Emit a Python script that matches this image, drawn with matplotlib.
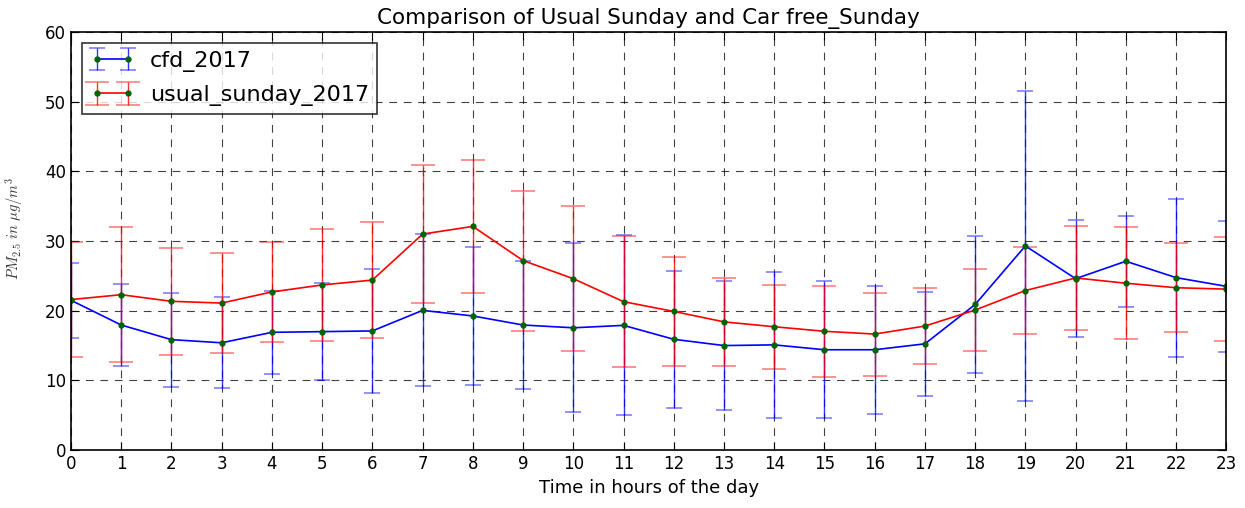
import numpy as np
import matplotlib
matplotlib.use("Agg")
import matplotlib.pyplot as plt

plt.rcParams['mathtext.fontset'] = 'cm'
plt.rcParams['xtick.direction'] = 'in'
plt.rcParams['ytick.direction'] = 'in'

hours = list(range(24))

cfd_2017_mean = [21.5, 17.95, 15.85, 15.4, 16.9, 17.0, 17.1, 20.05, 19.25, 17.95,
                 17.55, 17.9, 15.9, 15.0, 15.1, 14.4, 14.4, 15.25, 20.9, 29.3,
                 24.6, 27.1, 24.75, 23.5]
cfd_2017_std = [5.4, 5.85, 6.75, 6.5, 6.0, 7.0, 8.9, 10.9, 9.85, 9.25,
                12.15, 12.9, 9.8, 9.3, 10.5, 9.8, 9.2, 7.45, 9.8, 22.3,
                8.4, 6.5, 11.35, 9.4]

usual_sunday_2017_mean = [21.6, 22.3, 21.35, 21.1, 22.7, 23.7, 24.4, 31.0, 32.1, 27.2,
                          24.6, 21.3, 19.9, 18.4, 17.7, 17.05, 16.65, 17.8, 20.1, 22.9,
                          24.7, 23.95, 23.3, 23.1]
usual_sunday_2017_std = [8.3, 9.7, 7.65, 7.2, 7.2, 8.0, 8.3, 9.9, 9.5, 10.05,
                         10.4, 9.4, 7.8, 6.3, 6.0, 6.55, 5.95, 5.5, 5.9, 6.3,
                         7.5, 8.0, 6.4, 7.5]

fig = plt.figure(figsize=(12.45, 5.08), dpi=100)
ax = fig.add_axes([0.057, 0.114, 0.928, 0.823])

def draw(mean, err, color, label, cap):
    line, caps, bars = ax.errorbar(hours, mean, yerr=err, color=color, ecolor=color,
                                   marker='o', markersize=3.5, markerfacecolor='#006400',
                                   markeredgecolor='#006400', linewidth=1.2,
                                   elinewidth=1, capsize=cap, capthick=1.2,
                                   label=label)
    for c in caps:
        c.set_alpha(0.5)
    for b in bars:
        b.set_alpha(0.8)

draw(cfd_2017_mean, cfd_2017_std, 'b', 'cfd_2017', 6)
draw(usual_sunday_2017_mean, usual_sunday_2017_std, 'r', 'usual_sunday_2017', 8.3)

ax.set_xlim(0, 23)
ax.set_ylim(0, 60)
ax.set_xticks(hours)
ax.set_yticks(range(0, 61, 10))
ax.tick_params(top=True, right=True, length=6, labelsize=12, width=0.8)
ax.grid(True, color='black', linestyle=(0, (7, 6)), linewidth=0.8, alpha=0.75)
for s in ax.spines.values():
    s.set_linewidth(1.2)

ax.set_title('Comparison of Usual Sunday and Car free_Sunday', fontsize=15.5)
ax.set_xlabel('Time in hours of the day', fontsize=13)
ax.set_ylabel(r'$PM_{2.5}\ in\ \mu g/m^3$', fontsize=10.5, color='#333333')
ax.yaxis.set_label_coords(-0.040, 0.53)

leg = ax.legend(loc='upper left', numpoints=2, fontsize=16, fancybox=False,
                handlelength=2, borderaxespad=0.5, borderpad=0.35,
                labelspacing=0.6, handletextpad=0.7)
leg.get_frame().set_edgecolor('black')
leg.get_frame().set_linewidth(1.2)

fig.savefig('out.png', dpi=100, facecolor='white')
